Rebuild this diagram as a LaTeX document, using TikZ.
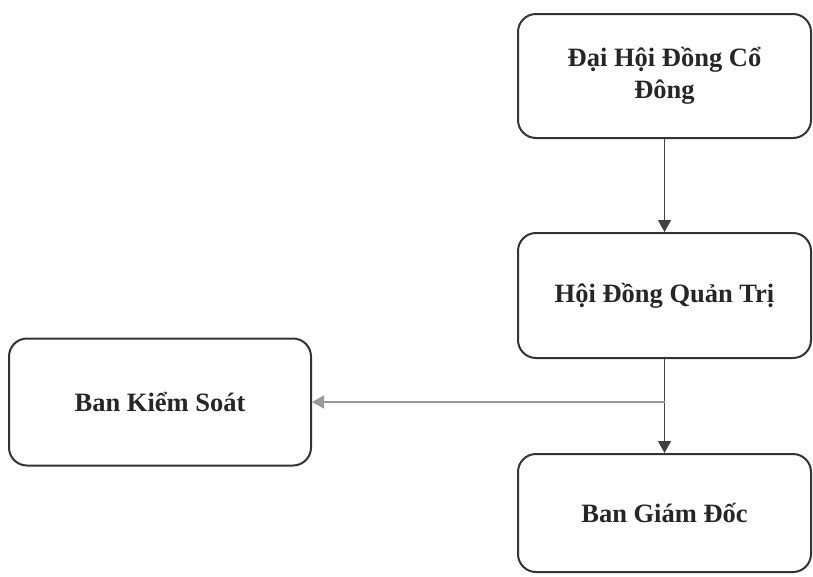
\documentclass[tikz,border=0pt]{standalone}
\usepackage{fontspec}
\setmainfont{Liberation Serif}
\usetikzlibrary{arrows.meta}

\tikzset{
  khoi/.style={draw=black!80, line width=2pt, rounded corners=18pt, align=center,
    font=\fontsize{26.5}{32}\selectfont\bfseries, text=black!85},
  muiten/.style={draw=black!75, line width=1.3pt, -{Triangle[length=12pt,width=13pt]}},
  muitenxam/.style={draw=black!40, line width=1.3pt, -{Triangle[length=12pt,width=13pt]}}
}

\begin{document}
\begin{tikzpicture}[x=1pt,y=-1pt]

      \useasboundingbox (0,0) rectangle (813,576);

      \node[khoi, minimum width=293pt, minimum height=124pt] (dhdcd) at (664.5,76) {Đại Hội Đồng Cổ\\Đông};
      \node[khoi, minimum width=293pt, minimum height=125pt] (hdqt) at (664.5,295.5) {Hội Đồng Quản Trị};
      \node[khoi, minimum width=302pt, minimum height=127pt] (bks) at (160,402) {Ban Kiểm Soát};
      \node[khoi, minimum width=293pt, minimum height=118pt] (bgd) at (664.5,513) {Ban Giám Đốc};

      \coordinate (re) at (hdqt.south |- bks.east);

      \draw[muiten] (dhdcd.south) -- (hdqt.north);
      \draw[muiten] (hdqt.south) -- (bgd.north);
      \draw[muitenxam] (re) -- (bks.east);

    \end{tikzpicture}
\end{document}
